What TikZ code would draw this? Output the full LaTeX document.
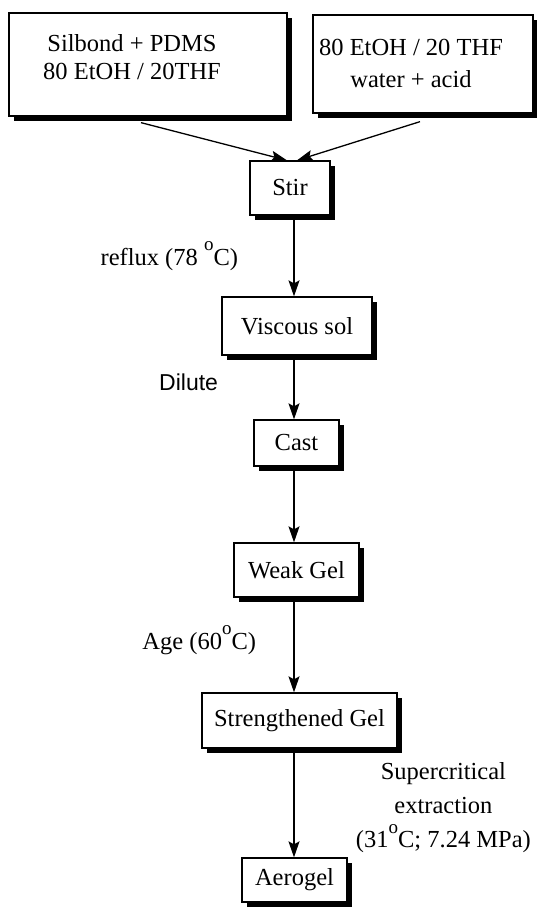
\documentclass[tikz,border=0pt]{standalone}
\usepackage{fontspec}
\setmainfont{Liberation Serif}
\setsansfont{Liberation Sans}
\usetikzlibrary{arrows.meta,positioning,shadows}
\newcommand{\dego}{\raisebox{0.6em}{\fontsize{19}{19}\selectfont o}}

\begin{document}
\begin{tikzpicture}[x=1pt,y=-1pt,font=\fontsize{24.5}{28}\selectfont,
  >={Stealth[length=16pt,width=11pt,inset=3pt]},
  stage/.style={draw,line width=1.3pt,fill=white,inner sep=0pt,
    drop shadow={shadow xshift=5pt,shadow yshift=-5pt,fill=black,opacity=1}},
  flow/.style={->,line width=1.3pt}]
\useasboundingbox (0,0) rectangle (536,910);
\coordinate (spine) at (294,0);
% the two starting mixtures
\node[stage,minimum width=278pt,minimum height=103pt,
  label={[align=center,xshift=-16pt,yshift=7pt]center:Silbond + PDMS\\80 EtOH / 20THF}] (silbond) at (148,64.5) {};
\node[stage,minimum width=220pt,minimum height=98pt,
  label={[align=center,xshift=-12pt,yshift=1pt]center:80 EtOH / 20 THF\\[4pt]water + acid}] (ethanol) at (423,64) {};
% process chain
\node[stage,minimum width=80pt,minimum height=54pt] (stir) at (290,188) {Stir};
\node[stage,minimum width=150pt,minimum height=58pt] (viscous) at (297,326) {Viscous sol};
\node[stage,minimum width=85pt,minimum height=46pt] (cast) at (296.5,443) {Cast};
\node[stage,minimum width=125pt,minimum height=54pt] (weak) at (296.5,570) {Weak Gel};
\node[stage,minimum width=195pt,minimum height=55pt] (strong) at (299.5,720.5) {Strengthened Gel};
\node[stage,minimum width=105pt,minimum height=44pt] (aerogel) at (294.5,880) {Aerogel};
\draw[flow] ([xshift=-7pt,yshift=-6pt]silbond.south) -- ([xshift=-3pt]stir.north);
\draw[flow] ([xshift=-3pt,yshift=-8pt]ethanol.south) -- ([xshift=7pt]stir.north);
\draw[flow] (stir.south -| spine) -- (viscous.north -| spine)
  node[midway,left=52pt] (reflux) {reflux (78 \dego{}C)};
\draw[flow] (viscous.south -| spine) -- (cast.north -| spine)
  node[midway,left=72pt,yshift=5pt] (dilute) {\sffamily\fontsize{23}{27}\selectfont Dilute};
\draw[flow] (cast.south -| spine) -- (weak.north -| spine);
\draw[flow] (weak.south -| spine) -- (strong.north -| spine)
  node[midway,left=34pt,yshift=5pt] (age) {Age (60\dego{}C)};
\draw[flow] (strong.south -| spine) -- (aerogel.north -| spine)
  node[midway,right=58pt,yshift=-5pt,align=center] (scf) {Supercritical\\[6pt]extraction\\[6pt](31\dego{}C; 7.24 MPa)};
\end{tikzpicture}
\end{document}
